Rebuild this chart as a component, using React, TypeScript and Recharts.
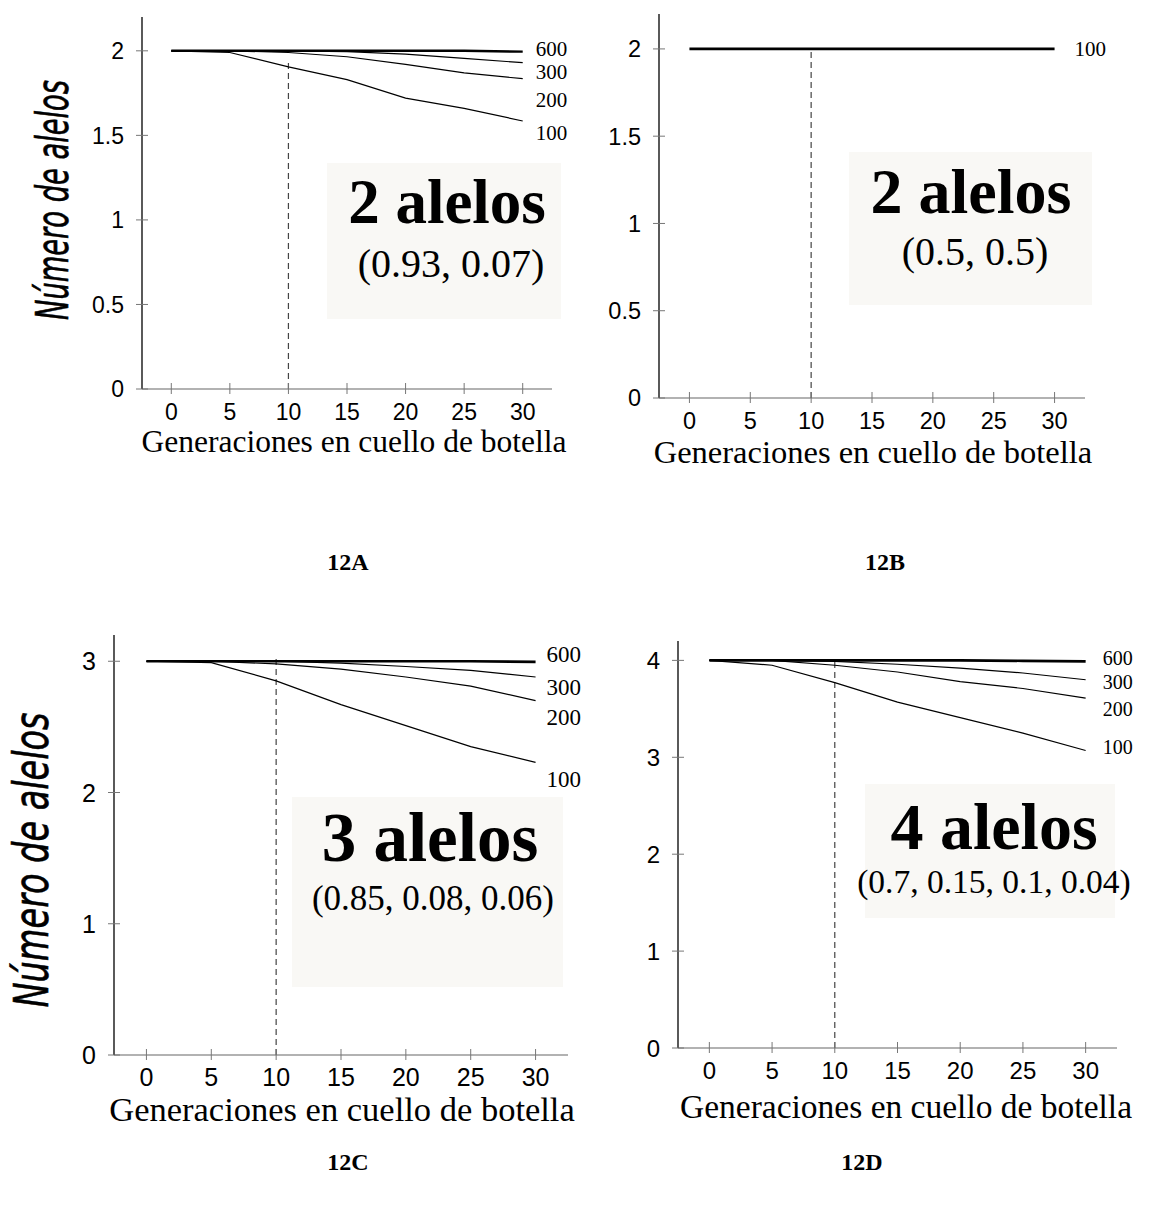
import React from 'react';
import { LineChart, Line, XAxis, YAxis, ReferenceLine, LabelList, Label } from 'recharts';

// generations spent in the bottleneck (x axis)
const generations = [0, 5, 10, 15, 20, 25, 30];
const xTicks = [0, 5, 10, 15, 20, 25, 30];

// 12A: 2 alelos (0.93, 0.07)
const a600 = [2, 2, 2, 2, 2, 2, 1.995];
const a300 = [2, 2, 2, 1.995, 1.98, 1.955, 1.93];
const a200 = [2, 2, 1.99, 1.965, 1.92, 1.87, 1.835];
const a100 = [2, 1.99, 1.905, 1.83, 1.72, 1.66, 1.585];

// 12B: 2 alelos (0.5, 0.5)
const b100 = [2, 2, 2, 2, 2, 2, 2];

// 12C: 3 alelos (0.85, 0.08, 0.06)
const c600 = [3, 3, 3, 3, 3, 3, 2.995];
const c300 = [3, 3, 3, 2.985, 2.96, 2.93, 2.88];
const c200 = [3, 3, 2.98, 2.94, 2.88, 2.81, 2.7];
const c100 = [3, 2.99, 2.85, 2.67, 2.51, 2.35, 2.23];

// 12D: 4 alelos (0.7, 0.15, 0.1, 0.04)
const d600 = [4, 4, 4, 4, 4, 3.995, 3.99];
const d300 = [4, 4, 3.99, 3.96, 3.92, 3.87, 3.8];
const d200 = [4, 4, 3.95, 3.88, 3.78, 3.71, 3.61];
const d100 = [4, 3.95, 3.77, 3.57, 3.41, 3.25, 3.07];

const yTicksA = [0, 0.5, 1, 1.5, 2];
const yTicksC = [0, 1, 2, 3];
const yTicksD = [0, 1, 2, 3, 4];

const SERIF = '"Liberation Serif", "Times New Roman", serif';
const SANS = '"Liberation Sans", Arial, sans-serif';
const NARROW = '"Liberation Sans Narrow", "Arial Narrow", "DejaVu Sans Condensed", sans-serif';

const X_TITLE = 'Generaciones en cuello de botella';
const Y_TITLE = 'Número de alelos';

type Series = { name: string; values: number[]; width: number; dy: number };

// title coordinates below are page coordinates
const panels = [
  {
    id: 'A', left: 0, top: 0, width: 600, height: 480,
    plot: { l: 142, r: 552, t: 17, b: 389 },
    yMax: 2.2, yTicks: yTicksA, dashTop: 1.93,
    series: [
      { name: '600', values: a600, width: 2.4, dy: -3 },
      { name: '300', values: a300, width: 1.2, dy: 9 },
      { name: '200', values: a200, width: 1.2, dy: 21 },
      { name: '100', values: a100, width: 1.2, dy: 12 },
    ] as Series[],
    gap: 13, labelSize: 21, tickSize: 23,
    xTitle: { x: 354, y: 452, size: 31.5 },
    yTitle: { x: 68, y: 200, size: 44, len: 240 },
  },
  {
    id: 'B', left: 575, top: 0, width: 575, height: 480,
    plot: { l: 84, r: 510, t: 14, b: 398 },
    yMax: 2.2, yTicks: yTicksA, dashTop: 2,
    series: [{ name: '100', values: b100, width: 2.6, dy: 0 }] as Series[],
    gap: 20, labelSize: 21, tickSize: 23.5,
    xTitle: { x: 873, y: 463, size: 32.5 },
    yTitle: null,
  },
  {
    id: 'C', left: 0, top: 600, width: 600, height: 540,
    plot: { l: 114, r: 568, t: 35, b: 455 },
    yMax: 3.2, yTicks: yTicksC, dashTop: 3.02,
    series: [
      { name: '600', values: c600, width: 2.6, dy: -7 },
      { name: '300', values: c300, width: 1.2, dy: 10 },
      { name: '200', values: c200, width: 1.2, dy: 17 },
      { name: '100', values: c100, width: 1.2, dy: 17 },
    ] as Series[],
    gap: 11, labelSize: 23, tickSize: 25,
    xTitle: { x: 342, y: 1121, size: 34.5 },
    yTitle: { x: 48, y: 260, size: 48, len: 295 },
  },
  {
    id: 'D', left: 600, top: 600, width: 550, height: 540,
    plot: { l: 78, r: 517, t: 41, b: 448 },
    yMax: 4.2, yTicks: yTicksD, dashTop: 4,
    series: [
      { name: '600', values: d600, width: 2.6, dy: -3 },
      { name: '300', values: d300, width: 1.2, dy: 3 },
      { name: '200', values: d200, width: 1.2, dy: 11 },
      { name: '100', values: d100, width: 1.2, dy: -3 },
    ] as Series[],
    gap: 17, labelSize: 20, tickSize: 24,
    xTitle: { x: 906, y: 1118, size: 33.5 },
    yTitle: null,
  },
];

// shaded boxes with the allele info, in page coordinates
const notes = [
  { box: [327, 163, 234, 156], title: '2 alelos', tx: 447, ty: 223, ts: 63, sub: '(0.93, 0.07)', sx: 451, sy: 277, ss: 40 },
  { box: [849, 152, 243, 153], title: '2 alelos', tx: 971, ty: 213, ts: 64, sub: '(0.5, 0.5)', sx: 975, sy: 265, ss: 40 },
  { box: [292, 797, 271, 190], title: '3 alelos', tx: 430, ty: 861, ts: 69, sub: '(0.85, 0.08, 0.06)', sx: 433, sy: 910, ss: 35 },
  { box: [865, 784, 250, 134], title: '4 alelos', tx: 994, ty: 849, ts: 66, sub: '(0.7, 0.15, 0.1, 0.04)', sx: 994, sy: 893, ss: 33.5 },
];

const captions = [
  { text: '12A', x: 348, y: 570 },
  { text: '12B', x: 885, y: 570 },
  { text: '12C', x: 348, y: 1170 },
  { text: '12D', x: 862, y: 1170 },
];

function Panel({ cfg }: { cfg: (typeof panels)[number] }) {
  const { plot } = cfg;
  const last = generations.length - 1;
  const data = generations.map((g, i) => {
    const row: any = { gen: g };
    cfg.series.forEach((s) => {
      row['p' + s.name] = s.values[i];
    });
    return row;
  });

  const xTick = (p: any) => (
    <g>
      <line x1={p.x} x2={p.x} y1={p.y - 6} y2={p.y + 5} stroke="#777" strokeWidth={1} />
      <text x={p.x} y={p.y + 31} textAnchor="middle" fontFamily={SANS} fontSize={cfg.tickSize} fill="#000">
        {p.payload.value}
      </text>
    </g>
  );

  const yTick = (p: any) => (
    <g>
      <line x1={p.x - 6} x2={p.x + 6} y1={p.y} y2={p.y} stroke="#777" strokeWidth={1} />
      <text x={p.x - 18} y={p.y + cfg.tickSize * 0.36} textAnchor="end" fontFamily={SANS} fontSize={cfg.tickSize} fill="#000">
        {p.payload.value}
      </text>
    </g>
  );

  const endLabel = (s: Series) => (p: any) => {
    if (p.value === undefined || p.value === null || p.value === '') return null;
    const x = p.x ?? p.viewBox?.x;
    const y = p.y ?? p.viewBox?.y;
    return (
      <text x={x + cfg.gap} y={y + s.dy + cfg.labelSize * 0.33} fontFamily={SERIF} fontSize={cfg.labelSize} fill="#000">
        {s.name}
      </text>
    );
  };

  return (
    <div style={{ position: 'absolute', left: cfg.left, top: cfg.top }}>
      <LineChart
        width={cfg.width}
        height={cfg.height}
        data={data}
        margin={{ top: plot.t, right: cfg.width - plot.r, bottom: 0, left: 0 }}
      >
        <XAxis
          dataKey="gen"
          type="number"
          domain={[-2.5, 32.5]}
          ticks={xTicks}
          interval={0}
          height={cfg.height - plot.b}
          axisLine={{ stroke: '#666', strokeWidth: 1.2 }}
          tickLine={false}
          tickSize={0}
          tickMargin={0}
          tick={xTick}
        >
          <Label
            content={() => (
              <text
                x={cfg.xTitle.x - cfg.left}
                y={cfg.xTitle.y - cfg.top}
                textAnchor="middle"
                fontFamily={SERIF}
                fontSize={cfg.xTitle.size}
                fill="#000"
              >
                {X_TITLE}
              </text>
            )}
          />
        </XAxis>
        <YAxis
          type="number"
          domain={[0, cfg.yMax]}
          ticks={cfg.yTicks}
          interval={0}
          width={plot.l}
          axisLine={{ stroke: '#000', strokeWidth: 1.3 }}
          tickLine={false}
          tickSize={0}
          tickMargin={0}
          tick={yTick}
        >
          {cfg.yTitle && (
            <Label
              content={() => (
                <text
                  transform={`translate(${cfg.yTitle!.x},${cfg.yTitle!.y}) rotate(-90)`}
                  textAnchor="middle"
                  fontFamily={NARROW}
                  fontStyle="italic"
                  fontSize={cfg.yTitle!.size}
                  textLength={cfg.yTitle!.len}
                  lengthAdjust="spacingAndGlyphs"
                  fill="#000"
                  stroke="#000"
                  strokeWidth={0.6}
                >
                  {Y_TITLE}
                </text>
              )}
            />
          )}
        </YAxis>
        <ReferenceLine
          segment={[{ x: 10, y: 0 }, { x: 10, y: cfg.dashTop }]}
          stroke="#444"
          strokeWidth={1.2}
          strokeDasharray="6 4"
        />
        {cfg.series.map((s) => (
          <Line
            key={s.name}
            type="linear"
            dataKey={'p' + s.name}
            stroke="#000"
            strokeWidth={s.width}
            dot={false}
            activeDot={false}
            isAnimationActive={false}
          >
            <LabelList
              dataKey={(row: any) => (row.gen === generations[last] ? s.name : null)}
              content={endLabel(s)}
            />
          </Line>
        ))}
      </LineChart>
    </div>
  );
}

export default function App() {
  return (
    <div style={{ position: 'absolute', left: 0, top: 0, width: 1150, height: 1224, background: '#fff' }}>
      <svg width={1150} height={1224} style={{ position: 'absolute', left: 0, top: 0 }}>
        {notes.map((n) => (
          <g key={n.title + n.sub}>
            <rect x={n.box[0]} y={n.box[1]} width={n.box[2]} height={n.box[3]} fill="#f9f8f5" />
            <text x={n.tx} y={n.ty} textAnchor="middle" fontFamily={SERIF} fontWeight="bold" fontSize={n.ts} fill="#000">
              {n.title}
            </text>
            <text x={n.sx} y={n.sy} textAnchor="middle" fontFamily={SERIF} fontSize={n.ss} fill="#000">
              {n.sub}
            </text>
          </g>
        ))}
        {captions.map((c) => (
          <text key={c.text} x={c.x} y={c.y} textAnchor="middle" fontFamily={SERIF} fontWeight="bold" fontSize={24} fill="#000">
            {c.text}
          </text>
        ))}
      </svg>
      {panels.map((p) => (
        <Panel key={p.id} cfg={p} />
      ))}
    </div>
  );
}
